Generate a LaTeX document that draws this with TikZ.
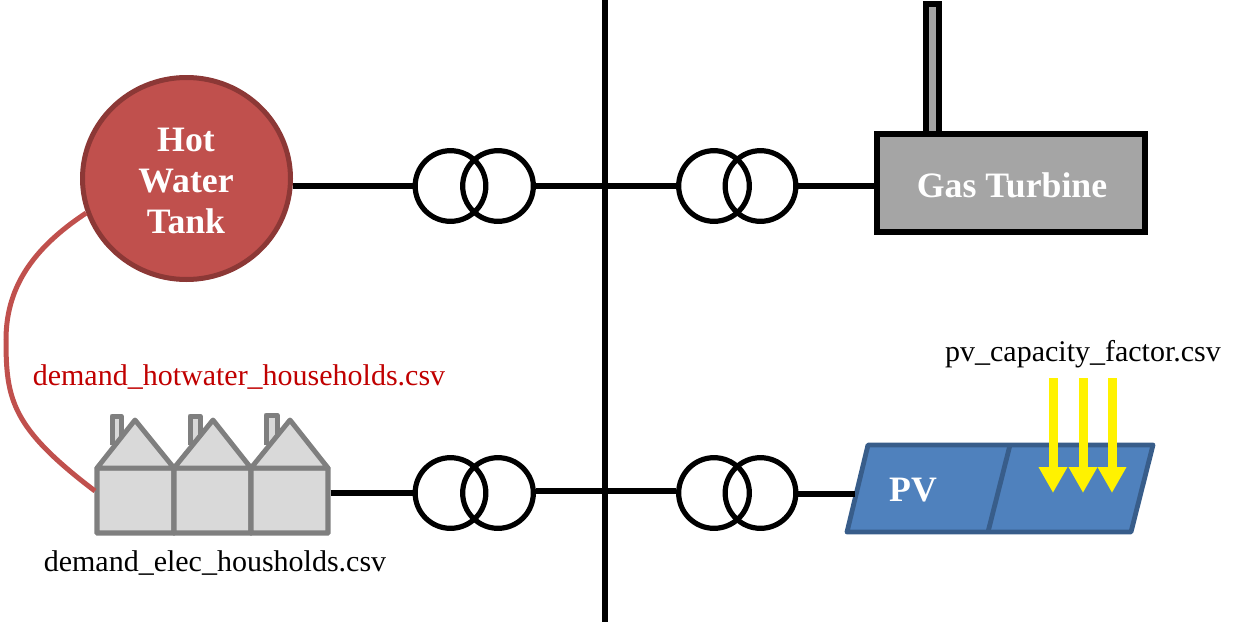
\documentclass[tikz,border=0pt]{standalone}
\usepackage{fontspec}
\setmainfont{Liberation Serif}
\usetikzlibrary{arrows.meta,shapes.geometric}
\definecolor{tankfill}{HTML}{C0504D}
\definecolor{tankline}{HTML}{8C3836}
\definecolor{gtfill}{HTML}{A5A5A5}
\definecolor{housefill}{HTML}{D9D9D9}
\definecolor{houseline}{HTML}{7F7F7F}
\definecolor{pvfill}{HTML}{4F81BD}
\definecolor{pvline}{HTML}{385D8A}
\definecolor{redtext}{HTML}{C00000}
\tikzset{
  wire/.style={line width=4.3pt,black},
  thinwire/.style={line width=3.9pt,black},
  trafo/.style={circle,draw=black,line width=3.9pt,minimum size=53pt,inner sep=0pt},
  tanknode/.style={ellipse,draw=tankline,fill=tankfill,line width=3.75pt,minimum width=156pt,minimum height=151.5pt,inner sep=0pt},
  tanklabel/.style={inner sep=0pt,align=center,text=white,font=\fontsize{26.8}{30.4}\selectfont\bfseries},
  gtbox/.style={rectangle,draw=black,fill=gtfill,line width=4.2pt,minimum width=201pt,minimum height=73.5pt,inner sep=0pt},
  chimney/.style={draw=black,fill=gtfill,line width=4.2pt,line join=miter},
  wall/.style={rectangle,draw=houseline,fill=housefill,line width=4pt,minimum width=57.75pt,minimum height=48.75pt,inner sep=0pt,rounded corners=.5pt},
  roof/.style={draw=houseline,fill=housefill,line width=3.7pt,line join=round},
  stack/.style={draw=houseline,fill=housefill,line width=3.75pt,line join=round},
  pvpanel/.style={draw=pvline,fill=pvfill,line width=3.6pt,line join=round},
  sun/.style={draw=yellow,line width=6.75pt,-{Triangle[length=19.5pt,width=20.25pt,fill=yellow]}},
  lab/.style={inner sep=0pt,font=\fontsize{22.5}{26}\selectfont},
  whitelab/.style={inner sep=0pt,text=white,font=\fontsize{26.8}{30}\selectfont\bfseries},
}
\begin{document}
\begin{tikzpicture}[x=0.75pt,y=-0.75pt]
\useasboundingbox (0,0) rectangle (1242,625);
% bus
\coordinate (busT) at (605,0);
\coordinate (busB) at (605,622);
\coordinate (busMid) at (605,491);
\draw[wire] (busT) -- (busB);
% transformers
\node[trafo] (t1a) at (450.5,186) {};
\node[trafo] (t1b) at (498,186) {};
\node[trafo] (t2a) at (714,186) {};
\node[trafo] (t2b) at (760.5,186) {};
\node[trafo] (t3a) at (450.5,493) {};
\node[trafo] (t3b) at (498,493) {};
\node[trafo] (t4a) at (714,493) {};
\node[trafo] (t4b) at (760.5,493) {};
% tank
\node[tanknode] (tank) at (186.5,178.5) {};
\node[tanklabel] (tanktext) at (186,181) {Hot\\Water\\Tank};
% gas turbine
\coordinate (stackTL) at (926,4);
\coordinate (stackTR) at (939,4);
\coordinate (stackBL) at (926,134);
\coordinate (stackBR) at (939,134);
\draw[chimney] (stackBL) -- (stackTL) -- (stackTR) -- (stackBR);
\node[gtbox] (gt) at (1011,183) {};
\node[whitelab] (gtlabel) at (1012,185) {Gas Turbine};
% houses: chimneys
\foreach \n/\xa/\xb/\yt/\yb in {c1/112/121/416/445,c2/190/200/416/445,c3/266/277/415/445}{
  \draw[stack] (\xa,\yb) -- (\xa,\yt) -- (\xb,\yt) -- (\xb,\yb);
}
% houses
\node[wall] (h1) at (135.5,500.5) {};
\node[wall] (h2) at (212.5,500.5) {};
\node[wall] (h3) at (289.5,500.5) {};
\draw[roof] (97,468) -- (135,420) -- (174,468) -- cycle;
\draw[roof] (174,468) -- (213,420) -- (251,468) -- cycle;
\draw[roof] (251,468) -- (290,420) -- (328,468) -- cycle;
% PV
\coordinate (pv1) at (868,445);
\coordinate (pv2) at (1153,445);
\coordinate (pv3) at (1131,532);
\coordinate (pv4) at (847,532);
\coordinate (pvdT) at (1010,445);
\coordinate (pvdB) at (988,532);
\coordinate (pvW) at (855,494);
\draw[pvpanel] (pv1) -- (pv2) -- (pv3) -- (pv4) -- cycle;
\draw[pvpanel] (pvdT) -- (pvdB);
\node[whitelab] (pvlabel) at (913,490) {PV};
% sun arrows
\foreach \n/\x in {a/1053,b/1083,c/1112}{
  \coordinate (s\n) at (\x,378);
  \coordinate (e\n) at (\x,493);
  \draw[sun] (s\n) -- (e\n);
}
% wires
\draw[wire] (tank.east |- t1a.west) -- (t1a.west);
\draw[thinwire] (t1b.east) -- (t2a.west);
\draw[wire] (t2b.east) -- (gt.west |- t2b.east);
\draw[wire] (h3.east |- t3a.west) -- (t3a.west);
\draw[wire] (t3b.east |- busMid) -- (busMid -| t4a.west);
\draw[wire] (t4b.east |- pvW) -- (pvW);
% hot water curve
\coordinate (hwEnd) at (95,491);
\draw[tankfill,line width=3.75pt] (tank.199) .. controls (30,250) and (6,290) .. (6,340) .. controls (6,400) and (12,428) .. (hwEnd);
% labels
\node[lab,text=redtext] (l1) at (239,377.5) {demand\_hotwater\_households.csv};
\node[lab] (l2) at (215,563.5) {demand\_elec\_housholds.csv};
\node[lab] (l3) at (1083,354.5) {pv\_capacity\_factor.csv};
\end{tikzpicture}
\end{document}
